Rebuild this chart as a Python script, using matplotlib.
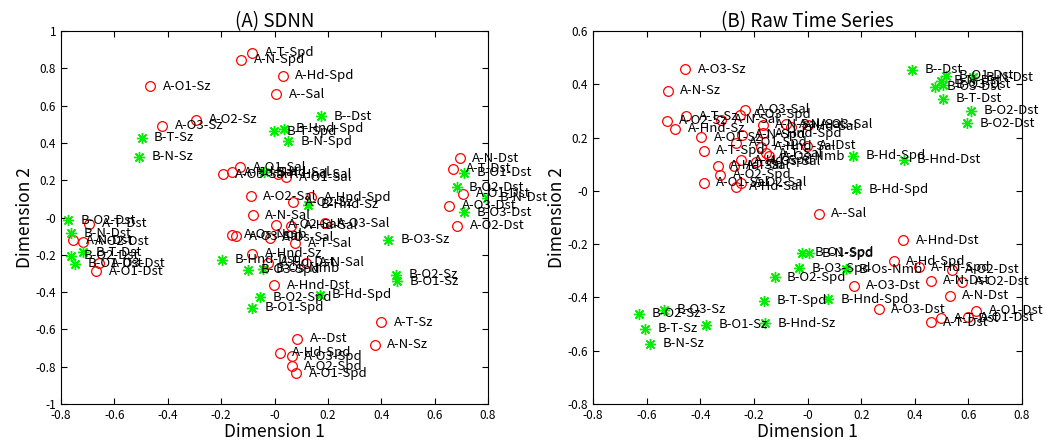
import numpy as np
import matplotlib.pyplot as plt
from matplotlib.ticker import FuncFormatter

plt.rcParams['font.family'] = ['Noto Sans CJK JP', 'DejaVu Sans']

# (A) SDNN - MDS coordinates
sdnn_labels = [
    'A-T-Spd', 'A-N-Spd', 'A-O1-Sz', 'A-Hd-Spd', 'A--Sal', 'A-O3-Sz', 'A-O2-Sz',
    'B-T-Sz', 'B-N-Sz', 'B--Dst', 'B-T-Spd', 'B-Hnd-Spd', 'B-N-Spd',
    'A-O3-Sal', 'A-Hd-Sal', 'A-O1-Sal', 'B-Hd-Sal', 'A-Hnd-Sal', 'A-O1-Sal',
    'A-O2-Sal', 'A-O2-Sz', 'A-Hnd-Spd', 'B-Hnd-Sz', 'A-N-Sal', 'A-O2-Sal',
    'A-Hd-Sal', 'A-O3-Sal', 'A-Os-Nmb', 'A-O3-Sal', 'A-Os-Sal', 'A-T-Sal',
    'A-Hnd-Sz', 'B-Hnd-Dst', 'A-Hd-Dst', 'A-N-Sal', 'B-O3-Spd', 'B-Os-Nmb',
    'A-Hnd-Dst', 'B-O2-Spd', 'B-O1-Spd', 'B-Hd-Spd', 'B-O3-Sz', 'B-O2-Sz',
    'B-O1-Sz', 'A-T-Sz', 'A-N-Sz', 'A--Dst', 'A-Hd-Spd', 'A-O3-Spd',
    'A-O2-Spd', 'A-O1-Spd', 'A-N-Dst', 'A-T-Dst', 'B-O1-Dst', 'B-O2-Dst',
    'A-O1-Dst', 'B-N-Dst', 'A-O3-Dst', 'B-O3-Dst', 'A-O2-Dst',
    'B-O2-Dst', 'A-T-Dst', 'B-N-Dst', 'A-N-Dst', 'A-O2-Dst', 'B-T-Dst',
    'B-O2-Dst', 'B-O1-Dst', 'A-O3-Dst', 'A-O1-Dst',
]
sdnn_x = [
    -0.084, -0.125, -0.466, 0.031, 0.006, -0.420, -0.294,
    -0.498, -0.507, 0.173, -0.003, 0.034, 0.050,
    -0.194, -0.160, -0.129, -0.041, 0.012, 0.044,
    -0.090, 0.069, 0.138, 0.125, -0.081, 0.004,
    0.063, 0.188, -0.160, -0.144, -0.018, 0.078,
    -0.084, -0.197, -0.025, 0.119, -0.098, -0.042,
    -0.002, -0.054, -0.083, 0.169, 0.425, 0.454,
    0.460, 0.400, 0.375, 0.085, 0.019, 0.065,
    0.065, 0.081, 0.694, 0.669, 0.709, 0.682,
    0.707, 0.798, 0.654, 0.710, 0.684,
    -0.773, -0.694, -0.761, -0.754, -0.719, -0.719,
    -0.761, -0.748, -0.659, -0.669,
]
sdnn_y = [
    0.883, 0.847, 0.704, 0.761, 0.661, 0.492, 0.525,
    0.427, 0.327, 0.542, 0.463, 0.476, 0.409,
    0.231, 0.243, 0.270, 0.243, 0.231, 0.216,
    0.113, 0.082, 0.109, 0.068, 0.011, -0.038,
    -0.043, -0.031, -0.093, -0.100, -0.109, -0.138,
    -0.195, -0.226, -0.243, -0.243, -0.279, -0.276,
    -0.364, -0.427, -0.485, -0.414, -0.120, -0.306,
    -0.343, -0.561, -0.681, -0.650, -0.725, -0.744,
    -0.797, -0.835, 0.319, 0.261, 0.240, 0.162,
    0.127, 0.106, 0.064, 0.028, -0.043,
    -0.016, -0.034, -0.084, -0.123, -0.130, -0.186,
    -0.204, -0.248, -0.245, -0.288,
]

# (B) Raw Time Series - MDS coordinates
raw_labels = [
    'A-O3-Sz', 'A-N-Sz', 'A-O2-Sz', 'A-Hnd-Sz', 'A-T-Sz', 'A-O1-Sz', 'A-T-Spd',
    'A-Hd-Sal', 'A-O2-Spd', 'A-O1-Sal', 'A-T-Sal', 'A-Hd-Spd', 'A-Hd-Sal',
    'A-O2-Sal', 'A-O3-Sal', 'A-O3-Spd', 'A-N-Sal', 'A-N-Spd', 'A-O1-Spd',
    'A-N-Sal', 'A-Hnd-Spd', 'A-N-Sal', 'A-Hd-Sal', 'A-Hnd-Sal', 'A-T-Sal',
    'A-Os-Nmb', 'A-Os-Sal', 'A--Dst', 'A-O3-Sal',
    'B-Hd-Spd', 'B-Hnd-Dst', 'B-Hd-Spd', 'A--Sal', 'B--Dst',
    'B-O1-Dst', 'B-N-Dst', 'B-O3-Dst', 'B-O3-Dst', 'B-N-Dst',
    'B-T-Dst', 'B-O2-Dst', 'B-O2-Dst',
    'B-O2-Sz', 'B-O3-Sz', 'B-T-Sz', 'B-N-Sz', 'B-O1-Sz', 'B-Hnd-Sz',
    'B-T-Spd', 'B-O2-Spd', 'B-O3-Spd', 'B-O1-Spd', 'B-N-Spd', 'B-Os-Nmb',
    'B-Hnd-Spd', 'A-O3-Dst', 'A-O3-Dst', 'A-Hnd-Dst', 'A-Hd-Spd', 'A-Hd-Spd',
    'A-O2-Dst', 'A-N-Dst', 'A-O2-Dst', 'A-N-Dst', 'A-O1-Dst', 'A-O1-Dst',
    'A-T-Dst', 'A-T-Dst',
]
raw_x = [
    -0.456, -0.521, -0.525, -0.494, -0.453, -0.397, -0.387,
    -0.335, -0.325, -0.387, -0.275, -0.247, -0.266,
    -0.247, -0.235, -0.250, -0.322, -0.244, -0.266,
    -0.167, -0.167, -0.079, -0.061, -0.173, -0.154,
    -0.142, -0.191, -0.003, 0.001,
    0.169, 0.359, 0.182, 0.042, 0.391,
    0.518, 0.499, 0.507, 0.474, 0.617,
    0.507, 0.611, 0.594,
    -0.629, -0.534, -0.606, -0.587, -0.378, -0.158,
    -0.163, -0.123, -0.032, -0.021, 0.007, 0.144,
    0.076, 0.173, 0.265, 0.356, 0.321, 0.415,
    0.540, 0.459, 0.577, 0.530, 0.629, 0.598,
    0.499, 0.459,
]
raw_y = [
    0.457, 0.376, 0.263, 0.233, 0.281, 0.201, 0.151,
    0.095, 0.060, 0.031, 0.094, 0.114, 0.016,
    0.031, 0.304, 0.285, 0.266, 0.210, 0.181,
    0.248, 0.216, 0.250, 0.241, 0.166, 0.141,
    0.129, 0.110, 0.169, 0.248,
    0.132, 0.116, 0.006, -0.086, 0.454,
    0.432, 0.414, 0.398, 0.391, 0.427,
    0.345, 0.301, 0.254,
    -0.462, -0.447, -0.518, -0.574, -0.503, -0.497,
    -0.413, -0.324, -0.290, -0.232, -0.234, -0.294,
    -0.406, -0.356, -0.444, -0.186, -0.265, -0.286,
    -0.296, -0.337, -0.341, -0.394, -0.450, -0.474,
    -0.478, -0.493,
]


def draw_panel(ax, xs, ys, labels, title, ylim, yticks):
    xs = np.array(xs)
    ys = np.array(ys)
    is_a = np.array([lab.startswith('A') for lab in labels])
    ax.plot(xs[is_a], ys[is_a], 'o', mfc='none', mec='#ff0000', ms=7, mew=0.9)
    ax.plot(xs[~is_a], ys[~is_a], ls='none', marker=(8, 2, 0), color='#00ee00',
            ms=8, mew=1.0)
    for x, y, lab in zip(xs, ys, labels):
        ax.annotate(lab, (x, y), xytext=(9, 0), textcoords='offset points',
                    va='center', ha='left', fontsize=9.5, color='black',
                    annotation_clip=False)
    ax.set_xlim(-0.8, 0.8)
    ax.set_ylim(ylim)
    ax.set_xticks(np.arange(-0.8, 0.81, 0.2))
    ax.set_yticks(yticks)
    fmt = FuncFormatter(lambda v, p: ('%g' % round(v, 2)))
    ax.xaxis.set_major_formatter(fmt)
    ax.yaxis.set_major_formatter(fmt)
    ax.tick_params(direction='in', top=True, right=True, labelsize=8.5, length=4)
    ax.set_title(title, fontsize=13.5, pad=3)
    ax.set_xlabel('Dimension 1', fontsize=12.5, labelpad=1)
    ax.set_ylabel('Dimension 2', fontsize=12.5, labelpad=1)


fig = plt.figure(figsize=(10.45, 4.43), dpi=100)
ax1 = fig.add_axes([0.0584, 0.088, 0.4086, 0.842])
ax2 = fig.add_axes([0.5675, 0.088, 0.4105, 0.842])

draw_panel(ax1, sdnn_x, sdnn_y, sdnn_labels, '(A) SDNN', (-1, 1),
           np.arange(-1, 1.01, 0.2))
draw_panel(ax2, raw_x, raw_y, raw_labels, '(B) Raw Time Series', (-0.8, 0.6),
           np.arange(-0.8, 0.61, 0.2))

fig.savefig('out.png', dpi=100)
